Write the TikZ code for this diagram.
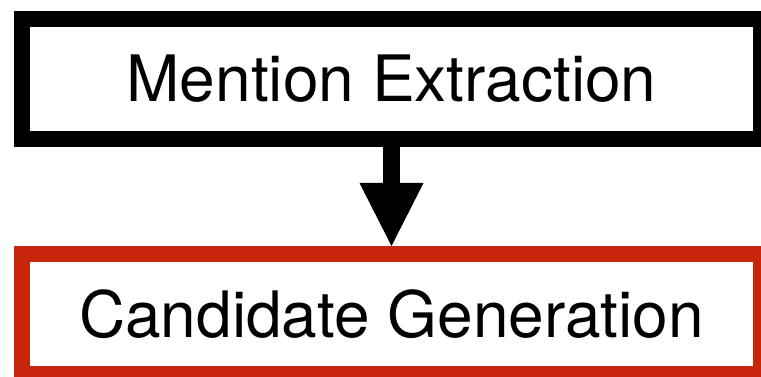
\documentclass[tikz,border=0pt]{standalone}
\usepackage{fontspec}
\setmainfont{TeX Gyre Heros}
\usetikzlibrary{arrows.meta}
\definecolor{boxred}{RGB}{200,38,10}
\tikzset{
  stagebox/.style={draw, line width=16pt, minimum width=739pt, minimum height=120pt,
    inner sep=0pt, font=\fontsize{64}{70}\selectfont, text=black},
  flowarrow/.style={line width=17pt, -{Triangle[width=64pt,length=63pt,line width=0pt]}}
}
\begin{document}
\begin{tikzpicture}[x=1pt,y=1pt]
\useasboundingbox (0,0) rectangle (761,377);
\clip (0,0) rectangle (761,377);
\node[stagebox] (mention) at (391.5,298) {Mention Extraction};
\node[stagebox, draw=boxred] (candidate) at (391.5,63) {Candidate Generation};
\draw[flowarrow] (mention.south) -- (candidate.north);
\end{tikzpicture}
\end{document}
